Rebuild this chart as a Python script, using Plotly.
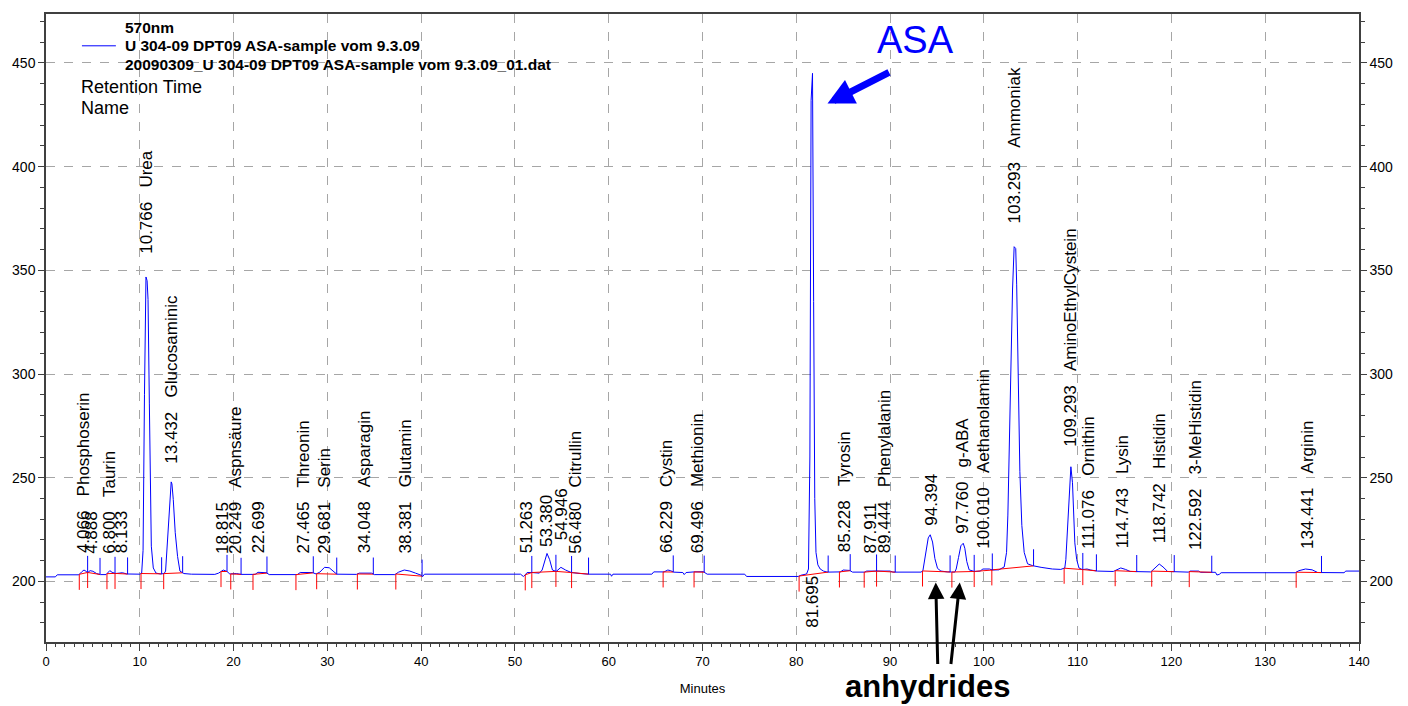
import numpy as np
import plotly.graph_objects as go

# ---- chromatogram, 570 nm channel -------------------------------------------
time_min = [
    0.0, 1.0, 1.2, 3.5, 3.8, 4.05, 4.3, 4.45, 4.7, 5.0, 5.4, 5.8, 6.4, 6.6, 6.8,
    7.05, 7.4, 7.8, 8.15, 8.6, 9.4, 10.0, 10.2, 10.35, 10.5, 10.66, 10.78, 10.88,
    11.02, 11.12, 11.23, 11.44, 11.73, 12.2, 12.6, 12.75, 12.97, 13.07, 13.25,
    13.35, 13.43, 13.57, 13.78, 14.03, 14.28, 14.7, 15.5, 18.0, 18.4, 18.9, 19.3,
    19.6, 20.3, 20.8, 22.3, 22.6, 23.5, 23.8, 26.8, 27.1, 28.4, 28.8, 29.2, 29.7,
    30.2, 30.6, 31.0, 33.1, 33.4, 34.7, 35.0, 37.2, 37.6, 38.2, 38.8, 39.4, 40.0,
    40.15, 40.35, 50.6, 50.9, 51.1, 51.3, 51.8, 52.6, 52.9, 53.15, 53.42, 53.7,
    54.0, 54.4, 54.9, 55.4, 56.0, 57.0, 57.9, 60.2, 60.3, 60.45, 64.6, 64.8, 65.9,
    66.3, 66.6, 66.9, 67.9, 68.05, 68.25, 69.1, 70.1, 70.5, 74.5, 74.7, 80.2, 80.5,
    81.1, 81.3, 81.45, 81.58, 81.65, 81.73, 81.85, 81.97, 82.1, 82.3, 82.55, 82.9,
    83.3, 84.7, 85.0, 85.7, 86.0, 87.3, 87.5, 90.0, 90.3, 93.3, 93.5, 93.82, 94.07,
    94.28, 94.53, 94.78, 95.06, 95.42, 96.1, 96.9, 97.05, 97.3, 97.55, 97.8, 97.97,
    98.18, 98.43, 98.97, 99.6, 99.9, 100.6, 100.9, 101.6, 102.17, 102.42, 102.56,
    102.7, 102.88, 103.06, 103.23, 103.4, 103.5, 103.63, 103.84, 104.05, 104.3,
    104.66, 105.2, 106.1, 107.3, 108.2, 108.63, 108.74, 108.92, 109.1, 109.28,
    109.45, 109.56, 109.7, 109.9, 110.14, 110.5, 111.0, 111.4, 112.1, 113.8, 114.2,
    114.6, 115.1, 115.6, 117.8, 118.3, 118.7, 119.1, 119.6, 121.8, 122.0, 122.9,
    123.1, 124.7, 124.85, 125.1, 125.3, 133.2, 133.6, 134.3, 135.0, 135.6, 138.4,
    138.6, 140.0,
]
signal = [
    202.2, 202.2, 203.2, 203.2, 204.6, 205.5, 204.8, 204.3, 205.2, 204.9, 203.8,
    203.3, 203.3, 204.2, 205.2, 204.4, 203.8, 204.0, 204.2, 203.6, 203.4, 203.5,
    204.0, 215.0, 290.0, 346.8, 345.0, 336.0, 286.0, 241.0, 217.0, 206.5, 204.0,
    203.6, 203.8, 205.0, 221.0, 233.0, 246.5, 248.0, 247.0, 239.5, 223.5, 212.0,
    205.0, 203.8, 203.5, 203.4, 204.0, 205.5, 204.8, 203.6, 203.8, 203.4, 203.4,
    204.4, 204.2, 203.3, 203.3, 204.3, 204.3, 203.6, 204.5, 206.8, 206.6, 205.0,
    203.5, 203.4, 204.0, 204.0, 203.3, 203.3, 204.5, 205.5, 205.0, 204.0, 203.0,
    202.3, 203.5, 203.5, 202.4, 203.2, 204.3, 204.3, 204.0, 205.5, 209.0, 213.5,
    210.5, 205.5, 204.8, 206.8, 205.5, 204.3, 203.8, 203.5, 203.5, 202.5, 203.5,
    203.5, 204.6, 204.6, 205.5, 205.2, 204.5, 204.3, 203.3, 204.3, 204.6, 204.7,
    203.5, 203.5, 202.4, 202.4, 203.0, 203.6, 206.0, 260.0, 432.0, 445.0, 445.0,
    335.0, 240.0, 214.0, 208.0, 206.0, 205.0, 204.5, 204.6, 205.5, 205.3, 204.5,
    204.5, 205.0, 205.0, 204.5, 204.5, 205.2, 213.0, 221.0, 222.5, 219.0, 211.0,
    206.3, 205.0, 204.6, 204.5, 206.0, 211.6, 217.2, 218.4, 216.0, 209.6, 205.6,
    204.8, 205.0, 206.0, 206.0, 205.5, 205.6, 207.0, 214.0, 232.0, 262.0, 304.0,
    341.0, 361.4, 360.5, 343.0, 301.0, 253.0, 227.0, 214.0, 208.5, 207.6, 206.8,
    206.0, 205.8, 206.5, 210.5, 224.0, 242.8, 255.3, 247.6, 230.0, 218.6, 210.5,
    206.5, 205.7, 206.0, 205.5, 205.0, 204.8, 205.6, 206.5, 205.8, 204.8, 204.6,
    206.5, 208.4, 207.0, 204.8, 204.5, 205.0, 205.0, 204.4, 204.4, 203.1, 203.4,
    204.2, 204.2, 205.2, 206.0, 205.6, 204.3, 204.2, 205.0, 205.0,
]

# ---- integrated peaks --------------------------------------------------------
peak_rt = [
    4.066, 4.888, 6.800, 8.133, 10.766, 13.432, 18.815, 20.249, 22.699, 27.465,
    29.681, 34.048, 38.381, 51.263, 53.380, 54.946, 56.480, 66.229, 69.496,
    81.695, 85.228, 87.911, 89.444, 94.394, 97.760, 100.010, 103.293, 109.293,
    111.076, 114.743, 118.742, 122.592, 134.441,
]
peak_name = [
    "Phosphoserin", "", "Taurin", "", "Urea", "Glucosaminic", "", "Aspnsäure", "",
    "Threonin", "Serin", "Asparagin", "Glutamin", "", "", "", "Citrullin",
    "Cystin", "Methionin", "", "Tyrosin", "", "Phenylalanin", "", "g-ABA",
    "Aethanolamin", "Ammoniak", "AminoEthylCystein", "Ornithin", "Lysin",
    "Histidin", "3-MeHistidin", "Arginin",
]
peak_start = [
    3.55, 4.44, 6.5, 7.36, 10.13, 12.55, 18.66, 19.7, 22.07, 26.65, 28.86, 33.2,
    37.3, 51.1, 51.8, 54.37, 56.04, 65.8, 69.1, 80.3, 84.6, 87.24, 88.56, 93.46,
    96.59, 98.97, 100.85, 108.56, 110.55, 114.0, 117.9, 121.9, 133.3,
]
peak_end = [
    4.44, 5.76, 7.36, 8.7, 12.33, 14.57, 19.3, 20.8, 23.56, 28.5, 31.0, 34.9,
    40.1, 51.8, 54.37, 56.04, 57.85, 66.88, 70.18, 83.4, 85.75, 88.56, 90.55,
    96.4, 98.97, 100.9, 105.3, 110.55, 112.0, 116.3, 120.3, 124.3, 136.0,
]

# ---- label placement (signal level at which each rotated label begins) -------
label_base = [
    213.0, 213.0, 213.0, 213.0, 357.5, 256.5, 213.0, 213.0, 213.0, 213.0, 213.0,
    213.0, 213.0, 213.0, 216.0, 219.5, 213.0, 213.0, 213.0, 203.3, 213.5, 213.0,
    213.0, 226.5, 222.5, 215.3, 372.0, 264.5, 215.3, 215.3, 217.7, 214.5, 215.3,
]
label_side = ["above"] * len(peak_rt)
label_side[peak_rt.index(81.695)] = "below"

# ---- canvas geometry ---------------------------------------------------------
W, H = 1408, 706
ML, MR, MT, MB = 44, 49, 13, 61
X_RANGE = [0, 140]
Y_RANGE = [170.8, 473.6]
FONT = "Liberation Sans, Arial, sans-serif"
BLUE = "#0000ff"
RED = "#ff0000"
GRID = "#a6a6a6"
AXIS = "#404040"


def paper_x(px):
    return (px - ML) / (W - ML - MR)


def paper_y(py):
    return (H - MB - py) / (H - MT - MB)


t_arr = np.asarray(time_min)
s_arr = np.asarray(signal)


def level(t):
    return float(np.interp(t, t_arr, s_arr))


# integration baselines and peak start/end markers
base_x, base_y = [], []
start_x, start_y = [], []
end_x, end_y = [], []
for t0, t1 in zip(peak_start, peak_end):
    base_x += [t0, t1, None]
    base_y += [level(t0), level(t1), None]
    start_x += [t0, t0, None]
    start_y += [level(t0), level(t0) - 7.5, None]
    end_x += [t1, t1, None]
    end_y += [level(t1), level(t1) + 8.0, None]

fig = go.Figure()
fig.add_trace(go.Scatter(
    x=time_min, y=signal, mode="lines", line=dict(color=BLUE, width=1),
    name="U 304-09 DPT09 ASA-sample vom 9.3.09", showlegend=False,
    hoverinfo="x+y",
))
fig.add_trace(go.Scatter(
    x=base_x, y=base_y, mode="lines", line=dict(color=RED, width=1),
    showlegend=False, hoverinfo="skip",
))
fig.add_trace(go.Scatter(
    x=start_x, y=start_y, mode="lines", line=dict(color=RED, width=1),
    showlegend=False, hoverinfo="skip",
))
fig.add_trace(go.Scatter(
    x=end_x, y=end_y, mode="lines", line=dict(color=BLUE, width=1),
    showlegend=False, hoverinfo="skip",
))
# carrier for the right-hand signal scale
fig.add_trace(go.Scatter(
    x=[None], y=[None], yaxis="y2", mode="lines", showlegend=False,
    hoverinfo="skip",
))

annotations = []

# retention time / name labels
gap = "\u00a0\u00a0\u00a0"
for rt, name, base, side in zip(peak_rt, peak_name, label_base, label_side):
    text = f"{rt:.3f}" + (gap + name if name else "")
    annotations.append(dict(
        x=rt, y=base, xref="x", yref="y", text=text, textangle=-90,
        showarrow=False, xanchor="center",
        yanchor="bottom" if side == "above" else "top",
        font=dict(family=FONT, size=17, color="black"), borderpad=0,
    ))

# ASA callout
annotations.append(dict(
    x=92.74, y=461.0, xref="x", yref="y", text="ASA", showarrow=False,
    font=dict(family=FONT, size=38, color=BLUE), xanchor="center",
    yanchor="middle",
))
annotations.append(dict(
    x=83.33, y=430.4, xref="x", yref="y", text="", showarrow=True,
    ax=63, ay=-32, arrowhead=2, arrowsize=0.75, arrowwidth=7,
    arrowcolor=BLUE, standoff=0,
))

# anhydride callout
for tip_t, dx in [(94.87, 2), (97.43, -9)]:
    annotations.append(dict(
        x=tip_t, y=199.5, xref="x", yref="y", text="", showarrow=True,
        ax=dx, ay=83, arrowhead=2, arrowsize=1.1, arrowwidth=3,
        arrowcolor="black", standoff=0,
    ))
annotations.append(dict(
    x=paper_x(927), y=paper_y(690), xref="paper", yref="paper",
    text="<b>anhydrides</b>", showarrow=False, xanchor="center",
    yanchor="middle", font=dict(family=FONT, size=31, color="black"),
))

# channel / sample header
header = [
    ("<b>570nm</b>", 121, 27, 15.5),
    ("<b>U 304-09 DPT09 ASA-sample vom 9.3.09</b>", 121, 45, 15.5),
    ("<b>20090309_U 304-09 DPT09 ASA-sample vom 9.3.09_01.dat</b>", 121, 64, 15.5),
    ("Retention Time", 77, 86, 18),
    ("Name", 77, 108, 18),
]
for text, px, py, size in header:
    annotations.append(dict(
        x=paper_x(px), y=paper_y(py), xref="paper", yref="paper", text=text,
        showarrow=False, xanchor="left", yanchor="middle",
        font=dict(family=FONT, size=size, color="black"),
    ))

shapes = [dict(
    type="line", xref="paper", yref="paper", x0=paper_x(80), x1=paper_x(114),
    y0=paper_y(45), y1=paper_y(45), line=dict(color=BLUE, width=1),
)]

fig.update_layout(
    width=W, height=H, autosize=False,
    margin=dict(l=ML, r=MR, t=MT, b=MB, pad=0),
    paper_bgcolor="white", plot_bgcolor="white",
    font=dict(family=FONT, color="black"),
    showlegend=False,
    annotations=annotations, shapes=shapes,
    xaxis=dict(
        range=X_RANGE, tick0=0, dtick=10, ticks="outside", ticklen=7,
        tickcolor=AXIS, tickwidth=1, showline=True, linecolor=AXIS,
        linewidth=1.5, mirror=True, showgrid=True, gridcolor=GRID,
        griddash="dash", gridwidth=1, zeroline=False,
        tickfont=dict(family=FONT, size=13, color="black"),
        minor=dict(dtick=1, ticks="outside", ticklen=3, tickcolor=AXIS,
                   showgrid=False),
        title=dict(text="Minutes", font=dict(family=FONT, size=13),
                   standoff=16),
    ),
    yaxis=dict(
        range=Y_RANGE, tick0=0, dtick=50, ticks="outside", ticklen=6,
        tickcolor=AXIS, tickwidth=1, showline=True, linecolor=AXIS,
        linewidth=1.5, showgrid=True, gridcolor=GRID, griddash="dash",
        gridwidth=1, zeroline=False,
        tickfont=dict(family=FONT, size=14, color="black"),
        minor=dict(dtick=10, ticks="outside", ticklen=4, tickcolor=AXIS,
                   showgrid=False),
    ),
    yaxis2=dict(
        range=Y_RANGE, overlaying="y", side="right", tick0=0, dtick=50,
        ticks="outside", ticklen=6, tickcolor=AXIS, tickwidth=1,
        showline=True, linecolor=AXIS, linewidth=1.5, showgrid=False,
        zeroline=False, tickfont=dict(family=FONT, size=14, color="black"),
        minor=dict(dtick=10, ticks="outside", ticklen=4, tickcolor=AXIS,
                   showgrid=False),
    ),
)

fig.write_html("out.html")
